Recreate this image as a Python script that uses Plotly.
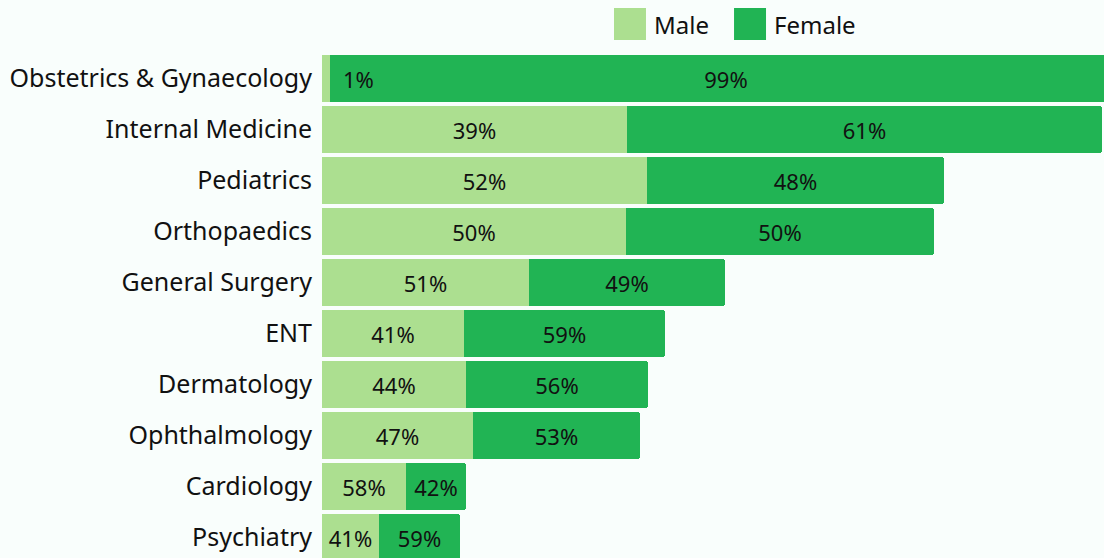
import plotly.graph_objects as go

categories = ["Obstetrics & Gynaecology", "Internal Medicine", "Pediatrics", "Orthopaedics",
              "General Surgery", "ENT", "Dermatology", "Ophthalmology", "Cardiology", "Psychiatry"]
male = [8, 305, 325, 304, 207, 142, 144, 151, 84, 57]
female = [792, 475, 297, 308, 196, 201, 182, 167, 60, 81]
male_pct = [1, 39, 52, 50, 51, 41, 44, 47, 58, 41]
female_pct = [99, 61, 48, 50, 49, 59, 56, 53, 42, 59]

MALE_C = "#acdf90"
FEMALE_C = "#21b454"
BG = "#f9fefc"
FONT = "Noto Sans"

male_text = [f"{p}%" if m > 40 else "" for p, m in zip(male_pct, male)]
female_text = [f"{p}%" for p in female_pct]

fig = go.Figure()
fig.add_trace(go.Bar(y=categories, x=male, orientation="h", name="Male",
                     marker=dict(color=MALE_C, line=dict(width=0)),
                     text=male_text, textposition="inside", insidetextanchor="middle",
                     constraintext="none", textfont=dict(size=22, color="#111", family=FONT),
                     showlegend=False))
fig.add_trace(go.Bar(y=categories, x=female, orientation="h", name="Female",
                     marker=dict(color=FEMALE_C, line=dict(width=0)),
                     text=female_text, textposition="inside", insidetextanchor="middle",
                     constraintext="none", textfont=dict(size=22, color="#111", family=FONT),
                     showlegend=False))

# label for the tiny male segment, anchored at its end
for c, m, p in zip(categories, male, male_pct):
    if m <= 40:
        fig.add_annotation(x=m, y=c, text=f"{p}%", showarrow=False, xanchor="left",
                           xshift=11, font=dict(size=22, color="#111", family=FONT))

# custom legend (paper coordinates relative to the plot area)
legend_items = [("Male", MALE_C, 0.3734), ("Female", FEMALE_C, 0.5269)]
for name, col, x0 in legend_items:
    fig.add_shape(type="rect", xref="paper", yref="paper", x0=x0, x1=x0 + 0.0409,
                  y0=1.0257, y1=1.0891, fillcolor=col, line=dict(width=0), layer="above")
    fig.add_annotation(xref="paper", yref="paper", x=x0 + 0.0480, y=1.0574, text=name,
                       showarrow=False, xanchor="left", yanchor="middle",
                       font=dict(size=24, color="#111", family=FONT))

fig.update_layout(
    barmode="stack", bargap=0.08, barcornerradius=3,
    width=1104, height=558,
    margin=dict(l=322, r=0, t=53, b=0),
    paper_bgcolor=BG, plot_bgcolor=BG,
    font=dict(family=FONT, color="#111"),
    showlegend=False,
    xaxis=dict(range=[0, 782], visible=False, fixedrange=True),
    yaxis=dict(range=[9.4, -0.5], showgrid=False, zeroline=False, showline=False,
               ticks="", ticklabelstandoff=9, fixedrange=True,
               tickfont=dict(size=25, color="#111", family=FONT)),
)

fig.write_html("out.html", config={"displayModeBar": False},
               post_script="document.body.style.margin='0';document.body.style.background='" + BG + "';")
